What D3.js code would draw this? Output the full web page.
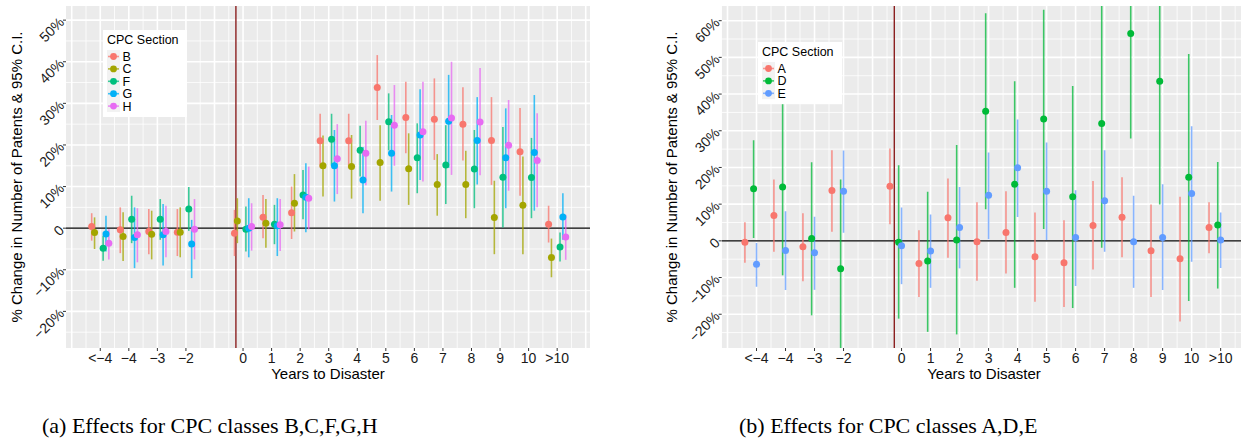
<!DOCTYPE html>
<html>
<head>
<meta charset="utf-8">
<script src="https://cdn.jsdelivr.net/npm/d3@7"></script>
<style>
  body { margin: 0; background: #fff; }
  text { font-family: "Liberation Sans", Arial, sans-serif; }
</style>
</head>
<body>
<div id="chart"></div>
<script>
// years to disaster: tick labels and their x values (-1 is the omitted reference year)
var yearLabels = ["<\u22124", "\u22124", "\u22123", "\u22122", "0", "1", "2", "3", "4", "5", "6", "7", "8", "9", "10", ">10"];
var yearVals = [-5, -4, -3, -2, 0, 1, 2, 3, 4, 5, 6, 7, 8, 9, 10, 11];

// all CPC sections, used for the dodge order
var sections = ["A", "B", "C", "D", "E", "F", "G", "H"];

// panel (a): estimates and 95% bounds, in percent
var estB = [0.4, -0.4, -0.8, -1.0, -1.2, 2.6, 3.7, 21.0, 21.0, 33.8, 26.6, 26.2, 25.0, 21.1, 18.35, 0.95];
var loB  = [-3.0, -6.0, -6.25, -6.7, -6.7, -2.4, -2.6, 14.6, 14.4, 26.0, 18.0, 16.4, 16.25, 10.4, 7.8, -3.45];
var hiB  = [3.6, 5.0, 4.6, 4.6, 4.4, 8.0, 10.0, 27.5, 27.5, 41.6, 35.2, 36.0, 33.9, 31.5, 28.9, 5.4];

var estC = [-1.05, -2.0, -1.45, -1.0, 1.75, 1.2, 6.0, 15.0, 14.8, 15.8, 14.3, 10.5, 10.5, 2.55, 5.5, -7.05];
var loC  = [-5.0, -7.9, -7.5, -7.0, -3.6, -4.7, -0.8, 7.6, 7.1, 6.6, 5.6, 3.0, 2.4, -6.25, -6.25, -11.8];
var hiC  = [2.6, 3.8, 4.2, 5.0, 7.2, 7.0, 13.0, 22.3, 22.4, 24.75, 22.8, 17.8, 18.6, 11.4, 17.2, -2.5];

var estF = [-4.8, 2.15, 2.15, 4.6, -0.25, 0.95, 8.0, 21.4, 18.7, 25.6, 16.9, 15.2, 14.25, 12.25, 12.2, -4.5];
var loF  = [-7.8, -3.6, -2.8, -0.65, -5.6, -3.85, 2.15, 15.0, 12.4, 18.7, 8.4, 5.8, 4.8, 0.15, 2.4, -8.0];
var hiF  = [-1.85, 7.8, 7.0, 9.9, 5.2, 5.6, 14.0, 27.5, 24.6, 32.4, 25.2, 24.75, 23.6, 24.3, 21.7, -1.05];

var estG = [-1.4, -2.25, -1.6, -3.8, 0.0, 0.6, 7.45, 15.0, 11.6, 18.0, 22.4, 25.7, 21.1, 16.9, 18.2, 2.7];
var loG  = [-5.6, -9.6, -9.0, -12.0, -7.0, -6.7, -1.0, 6.4, 3.6, 8.8, 11.6, 14.5, 10.5, 4.8, 4.2, -2.8];
var hiG  = [3.0, 5.0, 5.8, 2.0, 7.2, 7.2, 15.6, 23.6, 19.5, 27.2, 33.4, 36.85, 31.5, 28.8, 32.0, 8.4];

var estH = [-3.6, -1.6, -0.8, -0.25, 0.4, 0.8, 7.2, 16.7, 18.0, 24.75, 23.2, 26.5, 25.5, 19.95, 16.25, -2.15];
var loH  = [-7.5, -8.2, -7.0, -7.5, -5.4, -5.5, -0.25, 8.2, 10.3, 15.0, 11.2, 12.8, 12.7, 9.0, 5.0, -7.6];
var hiH  = [-0.25, 4.8, 5.4, 7.0, 6.0, 7.0, 14.8, 25.0, 25.8, 34.4, 35.2, 40.0, 38.5, 30.8, 27.6, 3.2];

// panel (b)
var estA = [-0.35, 6.9, -1.6, 13.7, 14.9, -6.2, 6.3, -0.25, 2.3, -4.35, -6.0, 4.2, 6.45, -2.7, -4.9, 3.65];
var loA  = [-6.0, -3.0, -11.0, 2.45, 4.5, -15.3, -4.6, -10.9, -8.9, -16.6, -18.0, -7.8, -4.5, -15.3, -22.0, -3.4];
var hiA  = [5.1, 16.7, 7.55, 24.7, 25.2, 2.9, 17.0, 10.5, 13.5, 7.7, 5.6, 16.3, 17.3, 9.9, 12.0, 10.5];

var estD = [14.2, 14.7, 0.65, -7.6, -0.35, -5.5, 0.2, 35.3, 15.4, 33.2, 12.0, 32.0, 56.5, 43.5, 17.3, 4.3];
var loD  = [0.8, -9.4, -20.3, -31.9, -21.2, -24.8, -25.5, 8.6, -12.8, 3.2, -18.3, -1.9, 27.9, 9.9, -16.4, -13.0];
var hiD  = [27.4, 38.8, 21.4, 16.7, 20.6, 13.4, 26.1, 62.0, 43.5, 63.0, 42.2, 65.9, 85.0, 77.0, 50.9, 21.5];

var estE = [-6.4, -2.6, -3.25, 13.5, -1.35, -2.8, 3.65, 12.4, 19.9, 13.5, 0.9, 10.9, -0.25, 0.9, 12.9, 0.2];
var loE  = [-12.5, -13.4, -13.35, 2.2, -11.8, -12.8, -7.5, 0.45, 6.5, 0.2, -12.3, -3.0, -12.8, -13.4, -5.7, -7.4];
var hiE  = [-0.6, 8.1, 6.6, 24.6, 9.1, 7.2, 14.7, 24.1, 33.1, 26.8, 13.8, 24.7, 12.3, 15.45, 31.25, 7.7];

var yTicksA = [-20, -10, 0, 10, 20, 30, 40, 50];
var yTicksB = [-20, -10, 0, 10, 20, 30, 40, 50, 60];

var svg = d3.select("#chart").append("svg")
  .attr("width", 1241)
  .attr("height", 444);

function series(name, est, lo, hi, color) {
  return est.map(function(d, i) {
    return { name: name, x: yearVals[i], est: d, lo: lo[i], hi: hi[i], color: color };
  });
}

function fmtPct(v) {
  if (v === 0) return "0";
  return (v < 0 ? "\u2212" : "") + Math.abs(v) + "%";
}

function drawPanel(p) {
  var x = d3.scaleLinear().domain([-6.2, 12.15]).range([p.left, p.right]);
  var y = d3.scaleLinear().domain(p.yDomain).range([p.bottom, p.top]);

  svg.append("clipPath").attr("id", p.id)
    .append("rect")
    .attr("x", p.left).attr("y", p.top)
    .attr("width", p.right - p.left).attr("height", p.bottom - p.top);

  var g = svg.append("g").attr("clip-path", "url(#" + p.id + ")");

  g.append("rect")
    .attr("x", p.left).attr("y", p.top)
    .attr("width", p.right - p.left).attr("height", p.bottom - p.top)
    .attr("fill", "#ebebeb");

  // grid: minor at halves, major at whole units / 10%
  var xMinor = d3.range(-6.5, 13, 1), xMajor = d3.range(-6, 13, 1);
  var yMinor = d3.range(-35, 70, 10), yMajor = p.yTicks;

  g.selectAll(".xminor").data(xMinor).join("line")
    .attr("x1", d => x(d)).attr("x2", d => x(d))
    .attr("y1", p.top).attr("y2", p.bottom)
    .attr("stroke", "#fff").attr("stroke-width", 0.8);
  g.selectAll(".yminor").data(yMinor).join("line")
    .attr("y1", d => y(d)).attr("y2", d => y(d))
    .attr("x1", p.left).attr("x2", p.right)
    .attr("stroke", "#fff").attr("stroke-width", 0.8);
  g.selectAll(".xmajor").data(xMajor).join("line")
    .attr("x1", d => x(d)).attr("x2", d => x(d))
    .attr("y1", p.top).attr("y2", p.bottom)
    .attr("stroke", "#fff").attr("stroke-width", 1.6);
  g.selectAll(".ymajor").data(yMajor).join("line")
    .attr("y1", d => y(d)).attr("y2", d => y(d))
    .attr("x1", p.left).attr("x2", p.right)
    .attr("stroke", "#fff").attr("stroke-width", 1.6);

  // reference lines
  g.append("line")
    .attr("x1", p.left).attr("x2", p.right)
    .attr("y1", y(0)).attr("y2", y(0))
    .attr("stroke", "#000").attr("stroke-width", 1.3);
  g.append("line")
    .attr("x1", x(-0.25)).attr("x2", x(-0.25))
    .attr("y1", p.top).attr("y2", p.bottom)
    .attr("stroke", "#8b2020").attr("stroke-width", 1.4);

  var data = [];
  p.series.forEach(function(s) { data = data.concat(s); });
  var dodge = function(d) { return x(d.x + (sections.indexOf(d.name) - 4) * 0.1); };

  g.selectAll(".bar").data(data).join("line")
    .attr("x1", dodge).attr("x2", dodge)
    .attr("y1", d => y(d.lo)).attr("y2", d => y(d.hi))
    .attr("stroke", d => d.color)
    .attr("stroke-opacity", 0.75)
    .attr("stroke-width", 1.6);

  g.selectAll(".pt").data(data).join("circle")
    .attr("cx", dodge).attr("cy", d => y(d.est))
    .attr("r", 3.5)
    .attr("fill", d => d.color);

  // axes
  var ax = svg.append("g");
  ax.selectAll(".xt").data(yearVals).join("line")
    .attr("x1", d => x(d)).attr("x2", d => x(d))
    .attr("y1", p.bottom).attr("y2", p.bottom + 3)
    .attr("stroke", "#333");
  ax.selectAll(".xl").data(yearVals).join("text")
    .attr("x", d => x(d)).attr("y", p.bottom + 15)
    .attr("text-anchor", "middle")
    .attr("font-size", 14)
    .attr("fill", "#1a1a1a")
    .text((d, i) => yearLabels[i]);

  ax.selectAll(".yt").data(p.yTicks).join("line")
    .attr("x1", p.left - 3).attr("x2", p.left)
    .attr("y1", d => y(d)).attr("y2", d => y(d))
    .attr("stroke", "#333");
  ax.selectAll(".yl").data(p.yTicks).join("text")
    .attr("transform", d => "translate(" + (p.left - 4) + "," + y(d) + ") rotate(-45)")
    .attr("text-anchor", "end")
    .attr("dy", "0.3em")
    .attr("font-size", 14)
    .attr("fill", "#1a1a1a")
    .text(fmtPct);

  svg.append("text")
    .attr("x", p.xTitle).attr("y", 379)
    .attr("text-anchor", "middle")
    .attr("font-size", 15)
    .text("Years to Disaster");

  svg.append("text")
    .attr("transform", "translate(" + p.yTitle + "," + ((p.top + p.bottom) / 2) + ") rotate(-90)")
    .attr("text-anchor", "middle")
    .attr("dy", "0.35em")
    .attr("font-size", 15)
    .text("% Change in Number of Patents & 95% C.I.");

  // legend
  var lg = svg.append("g").attr("transform", "translate(" + p.legend[0] + "," + p.legend[1] + ")");
  var n = p.names.length;
  lg.append("rect")
    .attr("width", 84).attr("height", 25 + n * 12.4)
    .attr("fill", "#fff");
  lg.append("text")
    .attr("x", 4).attr("y", 14)
    .attr("font-size", 12.5)
    .text("CPC Section");
  lg.append("rect")
    .attr("x", 4).attr("y", 20)
    .attr("width", 13).attr("height", n * 12.4)
    .attr("fill", "#f2f2f2");
  var keys = lg.selectAll(".key").data(p.names).join("g")
    .attr("transform", (d, i) => "translate(10.5," + (26.5 + i * 12.4) + ")");
  keys.append("line")
    .attr("x1", -5.5).attr("x2", 5.5)
    .attr("stroke", (d, i) => p.colors[i])
    .attr("stroke-opacity", 0.75)
    .attr("stroke-width", 1.6);
  keys.append("circle")
    .attr("r", 3.4)
    .attr("fill", (d, i) => p.colors[i]);
  keys.append("text")
    .attr("x", 9).attr("dy", "0.36em")
    .attr("font-size", 12.5)
    .text(d => d);
}

var colA = ["#F8766D", "#A3A500", "#00BF7D", "#00B0F6", "#E76BF3"];
drawPanel({
  id: "clipA", left: 66, right: 590, top: 6, bottom: 348,
  yDomain: [-28.8, 53.4], yTicks: yTicksA,
  xTitle: 328, yTitle: 17, legend: [103, 30],
  names: ["B", "C", "F", "G", "H"], colors: colA,
  series: [
    series("B", estB, loB, hiB, colA[0]),
    series("C", estC, loC, hiC, colA[1]),
    series("F", estF, loF, hiF, colA[2]),
    series("G", estG, loG, hiG, colA[3]),
    series("H", estH, loH, hiH, colA[4])
  ]
});

var colB = ["#F8766D", "#00BA38", "#619CFF"];
drawPanel({
  id: "clipB", left: 721.7, right: 1254, top: 6, bottom: 348,
  yDomain: [-29.2, 64], yTicks: yTicksB,
  xTitle: 984, yTitle: 672, legend: [758, 42],
  names: ["A", "D", "E"], colors: colB,
  series: [
    series("A", estA, loA, hiA, colB[0]),
    series("D", estD, loD, hiD, colB[1]),
    series("E", estE, loE, hiE, colB[2])
  ]
});

// sub-figure captions
svg.append("text")
  .attr("x", 42).attr("y", 433)
  .style("font-family", "'Liberation Serif', 'DejaVu Serif', serif")
  .attr("font-size", 22)
  .text("(a) Effects for CPC classes B,C,F,G,H");
svg.append("text")
  .attr("x", 739).attr("y", 433)
  .style("font-family", "'Liberation Serif', 'DejaVu Serif', serif")
  .attr("font-size", 22)
  .text("(b) Effects for CPC classes A,D,E");
</script>
</body>
</html>
